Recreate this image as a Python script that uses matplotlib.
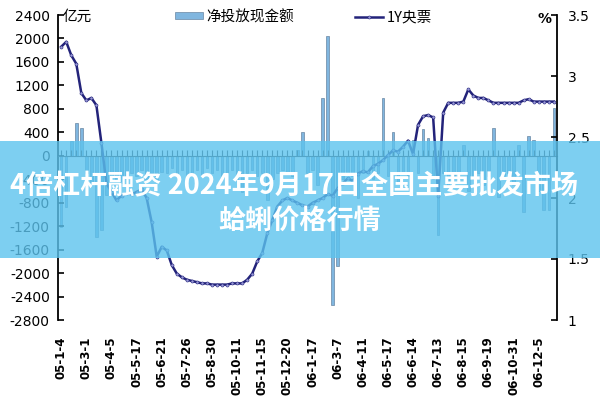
import numpy as np
import matplotlib
matplotlib.use('Agg')
import matplotlib.pyplot as plt
from matplotlib.patches import Rectangle

plt.rcParams['axes.unicode_minus'] = False

#%% Data (weekly points)

tick_labels = ['05-1-4', '05-3-1', '05-4-5', '05-5-17', '05-6-21', '05-7-26', '05-8-30',
               '05-10-11', '05-11-15', '05-12-20', '06-1-17', '06-3-7', '06-4-11', '06-5-17',
               '06-6-14', '06-7-13', '06-8-15', '06-9-19', '06-10-31', '06-12-5']

# net cash injection, 100 million yuan
net_cash = [-1220, -880, 250, 560, 470, -300, -450, -1390, -1270, -670,
            -350, -420, -470, -400, -300, -350, -250, -400, -300, -440,
            -280, -300, -200, -350, -250, -400, -300, -250, -350, -200,
            -300, -250, -350, -300, -250, -400, -620, -300, -250, -350,
            -300, -750, -400, -300, -250, -300, -350, 100, 400, -300,
            -250, -500, 985, 2045, -2545, -1880, -400, -300, -350, -720,
            -300, 80, -400, -300, 985, -350, 400, -450, -300, -350,
            270, -300, 450, 300, -400, -1350, -300, -500, -350, -400,
            180, -600, -400, -300, -500, -350, 470, -700, -400, -300,
            -500, 180, -960, 340, 270, -600, -930, -930, 810]

# 1Y central bank bill yield, %
yield_1y = [3.24, 3.28, 3.17, 3.10, 2.86, 2.80, 2.82, 2.76, 2.45, 2.12,
            2.05, 1.98, 2.02, 2.04, 2.03, 2.05, 2.07, 2.00, 1.80, 1.52,
            1.60, 1.57, 1.45, 1.38, 1.35, 1.33, 1.32, 1.31, 1.30, 1.30,
            1.29, 1.29, 1.29, 1.29, 1.30, 1.30, 1.30, 1.33, 1.38, 1.48,
            1.55, 1.71, 1.82, 1.93, 1.98, 2.00, 1.98, 1.96, 1.94, 1.93,
            1.96, 1.98, 2.00, 2.03, 2.02, 2.08, 2.12, 2.16, 2.14, 2.20,
            2.22, 2.21, 2.26, 2.28, 2.31, 2.35, 2.39, 2.38, 2.42, 2.47,
            2.36, 2.60, 2.67, 2.68, 2.66, 2.02, 2.70, 2.78, 2.78, 2.78,
            2.79, 2.89, 2.84, 2.82, 2.82, 2.80, 2.78, 2.78, 2.78, 2.78,
            2.78, 2.78, 2.80, 2.81, 2.79, 2.79, 2.79, 2.79, 2.79]

x = np.arange(len(net_cash))
cjk = ['Noto Sans CJK SC', 'DejaVu Sans']
navy = '#23237a'

#%% Plot

fig = plt.figure(figsize=(6, 4), dpi=100)
ax = fig.add_axes([0.097, 0.2, 0.831, 0.7625])
ax2 = ax.twinx()

bars = ax.bar(x, net_cash, width=0.5, color='#80b6df', edgecolor='#52708f', linewidth=0.4,
              label='净投放现金额')
line, = ax2.plot(x, yield_1y, color=navy, linewidth=1.8, marker='o', markersize=2.2,
                 markerfacecolor='#9a9ad8', markeredgecolor=navy, markeredgewidth=0.4,
                 label='1Y央票')

ax.set_xlim(-0.6, len(x) - 0.4)
ax.set_ylim(-2800, 2400)
ax.set_yticks(np.arange(-2800, 2401, 400))
ax2.set_ylim(1, 3.5)
ax2.set_yticks([1, 1.5, 2, 2.5, 3, 3.5])
ax2.set_yticklabels(['1', '1.5', '2', '2.5', '3', '3.5'])

for s in ['top', 'right']:
    ax.spines[s].set_visible(False)
for s in ['top', 'left', 'bottom']:
    ax2.spines[s].set_visible(False)
ax.spines['bottom'].set_position(('data', 0))
ax.spines['bottom'].set_color('#333333')
ax.spines['left'].set_linewidth(1.3)
ax2.spines['right'].set_linewidth(1.3)

# category ticks sit on the zero line, date labels at the bottom
ax.set_xticks(x)
ax.tick_params(axis='x', direction='in', length=4, width=0.8, color='#333333', labelbottom=False)
ax.tick_params(axis='y', direction='in', length=4, width=1.2, labelsize=10, pad=6)
ax2.tick_params(axis='y', direction='in', length=4, width=1.2, labelsize=10, pad=8)

sec = ax.secondary_xaxis('bottom')
sec.set_xticks(x[::5])
sec.set_xticklabels(tick_labels, rotation=90, fontsize=8.5, fontweight='bold')
sec.tick_params(length=0, pad=12)
sec.spines['bottom'].set_visible(False)

fig.legend(handles=[bars, line], loc='center', bbox_to_anchor=(0.506, 0.9575), ncol=2,
           frameon=False, prop={'family': cjk, 'size': 10.5}, columnspacing=4.2,
           handlelength=1.9, handletextpad=0.25, handleheight=0.35)

fig.text(0.105, 0.957, '亿元', family=cjk, fontsize=10.5, va='center')
fig.text(0.908, 0.952, '%', fontsize=10, va='center', ha='center', fontweight='bold')

# overlay banner
fig.patches.append(Rectangle((0, 0.355), 1, 0.293, transform=fig.transFigure,
                             facecolor='#5cc3ee', alpha=0.8, edgecolor='none', zorder=10))
fig.text(0.49, 1 - 186 / 400, '4倍杠杆融资 2024年9月17日全国主要批发市场', family=cjk,
         fontsize=19.5, fontweight='bold', color='white', ha='center', va='center', zorder=11)
fig.text(0.5, 1 - 221 / 400, '蛤蜊价格行情', family=cjk,
         fontsize=19.5, fontweight='bold', color='white', ha='center', va='center', zorder=11)

fig.savefig('out.png', dpi=100)
